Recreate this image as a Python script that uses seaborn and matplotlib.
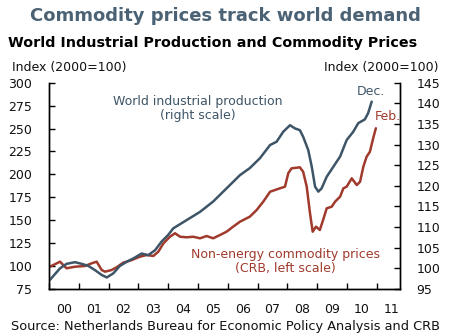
import numpy as np
import pandas as pd
import matplotlib
matplotlib.use("Agg")
import matplotlib.pyplot as plt
import seaborn as sns

# World industrial production (right scale, 2000=100)
prod_t = [2000.03, 2000.37, 2000.59, 2000.87, 2001.10, 2001.32, 2001.54, 2001.77, 2001.94,
          2002.16, 2002.38, 2002.61, 2002.83, 2003.11, 2003.33, 2003.56, 2003.78, 2004.00,
          2004.17, 2004.62, 2005.07, 2005.51, 2005.96, 2006.41, 2006.74, 2007.08, 2007.42,
          2007.64, 2007.86, 2008.09, 2008.26, 2008.42, 2008.53, 2008.70, 2008.82, 2008.93,
          2009.04, 2009.15, 2009.32, 2009.54, 2009.77, 2009.99, 2010.21, 2010.38, 2010.60,
          2010.71, 2010.83]
prod_v = [97.2, 100.0, 101.1, 101.5, 101.1, 100.6, 99.6, 98.4, 97.8,
          98.8, 100.6, 101.6, 102.4, 103.6, 103.2, 104.4, 106.5, 108.1,
          109.7, 111.7, 113.7, 116.2, 119.4, 122.6, 124.3, 126.7, 129.9,
          130.7, 133.1, 134.7, 133.9, 133.5, 131.9, 128.7, 124.6, 119.8,
          118.6, 119.4, 122.2, 124.6, 127.1, 131.1, 133.1, 135.2, 136.1,
          137.6, 140.4]

# Non-energy commodity prices (CRB, left scale, 2000=100)
crb_t = [2000.03, 2000.37, 2000.59, 2000.87, 2001.21, 2001.43, 2001.60, 2001.77, 2001.88,
         2002.10, 2002.27, 2002.49, 2002.78, 2003.05, 2003.28, 2003.50, 2003.67, 2003.84,
         2004.06, 2004.23, 2004.40, 2004.62, 2004.84, 2005.07, 2005.29, 2005.51, 2005.74,
         2005.96, 2006.18, 2006.41, 2006.74, 2006.97, 2007.19, 2007.42, 2007.75, 2007.92,
         2008.03, 2008.14, 2008.42, 2008.53, 2008.65, 2008.76, 2008.85, 2008.96, 2009.09,
         2009.20, 2009.32, 2009.49, 2009.60, 2009.77, 2009.88, 2009.99, 2010.16, 2010.33,
         2010.44, 2010.55, 2010.66, 2010.77, 2010.88, 2010.97]
crb_v = [99.3, 104.8, 97.6, 99.3, 100.1, 103.0, 104.8, 95.7, 93.9,
         95.7, 98.7, 103.7, 106.6, 110.2, 112.1, 111.0, 115.7, 124.8,
         132.0, 135.8, 132.0, 131.4, 132.0, 130.3, 132.8, 130.3, 133.9,
         137.5, 143.0, 148.4, 153.9, 161.2, 170.2, 181.1, 184.8, 186.6,
         201.2, 206.6, 207.7, 202.9, 186.6, 157.6, 137.5, 143.0, 139.4,
         150.3, 163.0, 164.8, 170.2, 175.7, 184.8, 186.6, 195.7, 188.4,
         192.0, 208.4, 219.3, 224.7, 239.4, 250.3]

year_labels = ["00", "01", "02", "03", "04", "05", "06", "07", "08", "09", "10", "11"]
left_ticks = [75, 100, 125, 150, 175, 200, 225, 250, 275, 300]
right_ticks = [95, 100, 105, 110, 115, 120, 125, 130, 135, 140, 145]

BLUE = "#3e5567"
RED = "#a03a2c"
TITLE = "#4b6274"

sns.set_theme(style="white")
plt.rcParams["font.family"] = ["DejaVu Sans"]

fig = plt.figure(figsize=(4.51, 3.34), dpi=100)
ax = fig.add_axes([0.1086, 0.1347, 0.7783, 0.6177])
ax2 = ax.twinx()

prod_df = pd.DataFrame({"t": prod_t, "v": prod_v})
crb_df = pd.DataFrame({"t": crb_t, "v": crb_v})

sns.lineplot(data=crb_df, x="t", y="v", ax=ax, color=RED, lw=1.8)
sns.lineplot(data=prod_df, x="t", y="v", ax=ax2, color=BLUE, lw=1.8)

ax.set_xlim(2000, 2011.78)
ax.set_ylim(75, 300)
ax2.set_ylim(95, 145)
ax.set_xlabel("")
ax.set_ylabel("")
ax2.set_ylabel("")

ax.set_yticks(left_ticks)
ax.set_yticklabels([str(v) for v in left_ticks])
ax2.set_yticks(right_ticks)
ax2.set_yticklabels([str(v) for v in right_ticks])

years = np.arange(2000, 2012)
ax.set_xticks(years)
ax.set_xticklabels([])
ax.set_xticks(years + 0.5, minor=True)
ax.set_xticklabels(year_labels, minor=True)

for a in (ax, ax2):
    for s in a.spines.values():
        s.set_color("black")
        s.set_linewidth(1.0)
    a.spines["top"].set_visible(False)

ax.tick_params(axis="x", which="major", direction="in", length=4, width=1, color="black", bottom=True)
ax.tick_params(axis="x", which="minor", length=0, pad=10, labelsize=9, labelcolor="#111111")
ax.tick_params(axis="y", direction="in", length=4, width=1, color="black", left=True, pad=12,
               labelsize=9, labelcolor="#111111")
ax2.tick_params(axis="y", direction="in", length=4, width=1, color="black", right=True, pad=12,
                labelsize=9, labelcolor="#111111")

fig.text(0.5, 0.952, "Commodity prices track world demand", ha="center", va="center",
         fontsize=13, fontweight="bold", color=TITLE)
fig.text(0.018, 0.872, "World Industrial Production and Commodity Prices", ha="left", va="center",
         fontsize=10.3, fontweight="bold", color="black")
fig.text(0.027, 0.797, "Index (2000=100)", ha="left", va="center", fontsize=9, color="#111111")
fig.text(0.972, 0.797, "Index (2000=100)", ha="right", va="center", fontsize=9, color="#111111")
fig.text(0.5, 0.021, "Source: Netherlands Bureau for Economic Policy Analysis and CRB",
         ha="center", va="center", fontsize=9.3, color="#111111")

fig.text(0.439, 0.674, "World industrial production\n(right scale)", ha="center", va="center",
         fontsize=9, color=BLUE, linespacing=1.1)
fig.text(0.79, 0.725, "Dec.", ha="left", va="center", fontsize=9, color=BLUE)
fig.text(0.831, 0.652, "Feb.", ha="left", va="center", fontsize=9, color=RED)
fig.text(0.632, 0.218, "Non-energy commodity prices\n(CRB, left scale)", ha="center", va="center",
         fontsize=9, color=RED, linespacing=1.1)

fig.savefig("out.png", dpi=100)
